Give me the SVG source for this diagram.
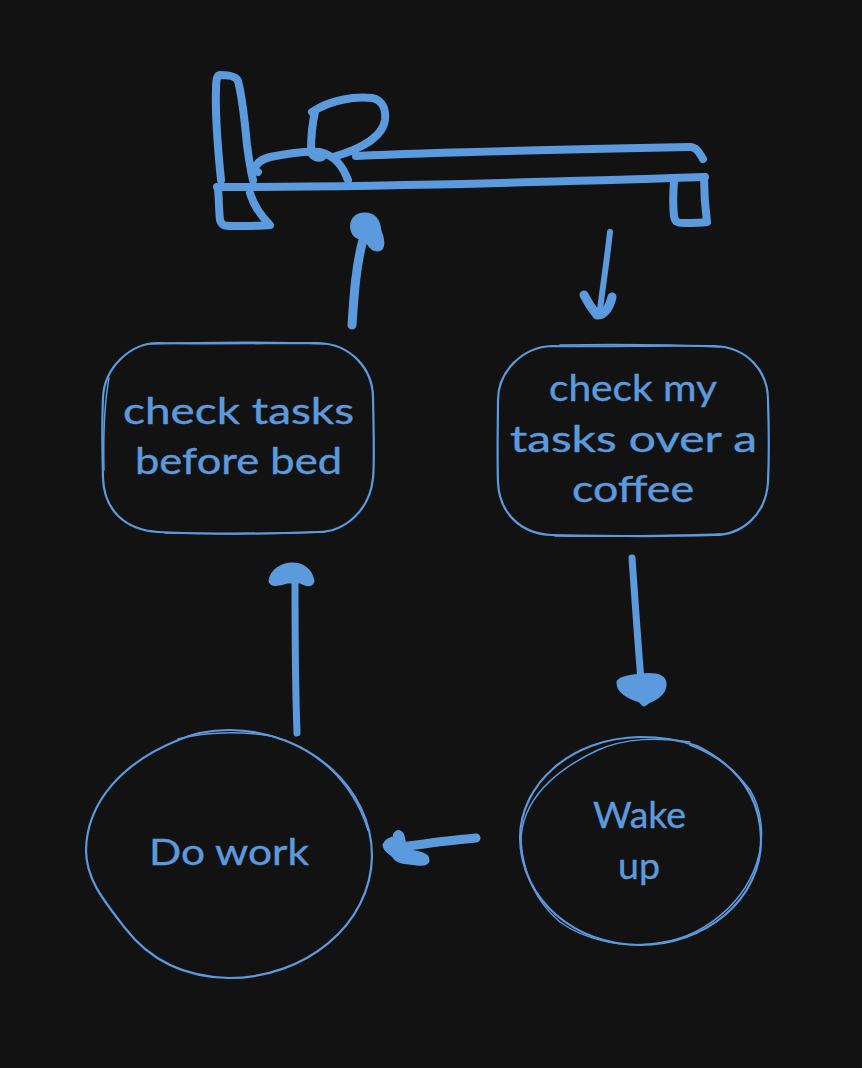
<svg xmlns="http://www.w3.org/2000/svg" width="862" height="1068" viewBox="0 0 862 1068">
<style>
.bg{fill:#121212}
.thick{fill:none;stroke:#5c9ade;stroke-width:8;stroke-linecap:round;stroke-linejoin:round}
.arrow{fill:none;stroke:#5c9ade;stroke-width:7;stroke-linecap:round;stroke-linejoin:round}
.blob{fill:#5c9ade;stroke:#5c9ade;stroke-width:5;stroke-linejoin:round}
.line{fill:none;stroke:#5c9ade;stroke-width:2.2;stroke-linecap:round}
.thin{fill:none;stroke:#5c9ade;stroke-width:1.5;stroke-linecap:round}
.label{fill:#5c9ade;stroke:#5c9ade;stroke-width:0.4;font-family:"Lato","Liberation Sans",sans-serif;font-size:37px;text-anchor:start}
</style>
<rect class="bg" width="862" height="1068"/>
<g id="bed">
<path class="thick" d="M221 180C218 150 215 115 216 90C216 80 217 75 220 75C228 75 236 76 238 81C243 100 245 125 247 145C249 160 251 172 253 180"/>
<path class="thick" d="M217 187C350 187 550 182 705 177"/>
<path class="thick" d="M218 188C219 200 219 212 220 220C222 226 225 226 232 226C245 226 258 226 270 225C262 217 254 206 250 193"/>
<path class="thick" d="M674 181C673 195 673 207 674 216C675 222 677 223 684 223C692 223 700 223 707 222C705 207 704 192 704 177"/>
<path class="thick" d="M356 156C450 152 590 149 690 147C696 147 699 152 703 159"/>
<path class="thick" d="M312 112C330 100 355 96 372 98C383 100 386 110 385 120C383 135 365 148 333 157"/>
<path class="thick" d="M315 112C312 125 311 140 311 151C312 157 318 159 322 157"/>
<path class="thick" d="M258 172L254 170C256 163 262 159 270 157C285 154 305 151 320 152C335 156 342 165 348 180"/>
</g>
<g id="connectors">
<g id="arrow-bed-up">
<path class="arrow" style="stroke-width:9" d="M352 325C354 295 356 265 363 240"/>
<path class="blob" d="M353 230C351 221 356 215 365 215C374 215 378 222 379 231C382 238 384 248 378 249C371 249 369 242 366 238C362 238 355 238 353 230Z"/>
</g>
<g id="arrow-bed-down">
<path class="arrow" style="stroke-width:6" d="M610 232C607 260 603 285 600 310"/>
<path class="arrow" style="stroke-width:9" d="M584 295C588 303 592 309 597 315C605 316 610 306 612 297"/>
</g>
<g id="arrow-coffee-wake">
<path class="arrow" d="M632 558C635 600 638 645 641 680"/>
<path class="blob" d="M619 682C622 678 632 677 642 676C652 675 663 676 664 683C665 692 656 698 648 701L644 704L640 700C630 697 618 691 619 682Z"/>
</g>
<g id="arrow-wake-work">
<path class="arrow" style="stroke-width:9" d="M476 838C450 840 425 844 400 847"/>
<path class="blob" d="M385 845C387 840 392 839 396 838C394 834 398 831 401 834C404 838 403 845 404 851C412 853 422 853 426 857C429 862 425 864 417 863C408 861 402 863 396 858C394 853 385 851 385 845Z"/>
</g>
<g id="arrow-work-tasks">
<path class="arrow" d="M297 733C295 680 295 630 295 578"/>
<path class="blob" d="M271 581C272 572 282 565 292 565C302 565 310 570 312 581C310 586 305 583 301 581L288 581C282 582 273 586 271 581Z"/>
</g>
</g>
<g id="node-check-before-bed">
<path class="line" d="M158 343C200 344 270 343 318 343C352 344 373 370 373 398C374 440 374 470 373 478C370 510 345 532 318 532C260 534 200 534 158 532C125 530 104 510 103 478C102 440 102 420 103 398C104 368 130 343 158 343Z"/>
<path class="thin" d="M150 344C210 342 280 342 325 344M104 470C103 430 105 400 109 378M165 533C220 534 280 534 325 532"/>
<text class="label" x="123" y="424" textLength="231" lengthAdjust="spacingAndGlyphs">check tasks</text>
<text class="label" x="135" y="474" textLength="207" lengthAdjust="spacingAndGlyphs">before bed</text>
</g>
<g id="node-check-coffee">
<path class="line" d="M552 346C600 347 670 345 714 346C748 347 768 372 768 400C769 430 769 460 768 482C766 515 742 535 714 535C660 537 600 536 552 535C520 534 499 512 498 482C497 450 498 425 498 400C498 372 522 347 552 346Z"/>
<path class="thin" d="M560 345C620 344 680 345 720 347M555 536C620 537 680 535 720 534"/>
<text class="label" x="549" y="401" textLength="168" lengthAdjust="spacingAndGlyphs">check my</text>
<text class="label" x="510" y="452" textLength="247" lengthAdjust="spacingAndGlyphs">tasks over a</text>
<text class="label" x="572" y="502" textLength="122" lengthAdjust="spacingAndGlyphs">coffee</text>
</g>
<g id="node-do-work">
<path class="line" d="M176 741C195 732 212 730 230 730C308 731 372 788 372 856C371 925 305 978 229 978C180 977 148 958 125 928C105 902 86 880 86 850C87 800 125 762 176 741Z"/>
<path class="thin" d="M178 739C210 731 245 732 272 736C315 748 352 780 368 830"/>
<text class="label" x="149" y="865" textLength="160" lengthAdjust="spacingAndGlyphs">Do work</text>
</g>
<g id="node-wake-up">
<path class="line" d="M697 746C680 740 660 737 640 737C570 738 520 785 520 838C521 900 575 945 640 945C705 945 762 900 761 838C760 795 735 765 697 746Z"/>
<path class="thin" d="M690 742C660 737 625 738 598 750C555 770 521 800 521 842C524 880 540 905 560 922C585 940 620 947 650 944C705 940 748 900 759 855C764 835 762 810 750 790C735 770 720 757 690 745"/>
<text class="label" x="593" y="828" textLength="93" lengthAdjust="spacingAndGlyphs">Wake</text>
<text class="label" x="618" y="879" textLength="42" lengthAdjust="spacingAndGlyphs">up</text>
</g>
</svg>
